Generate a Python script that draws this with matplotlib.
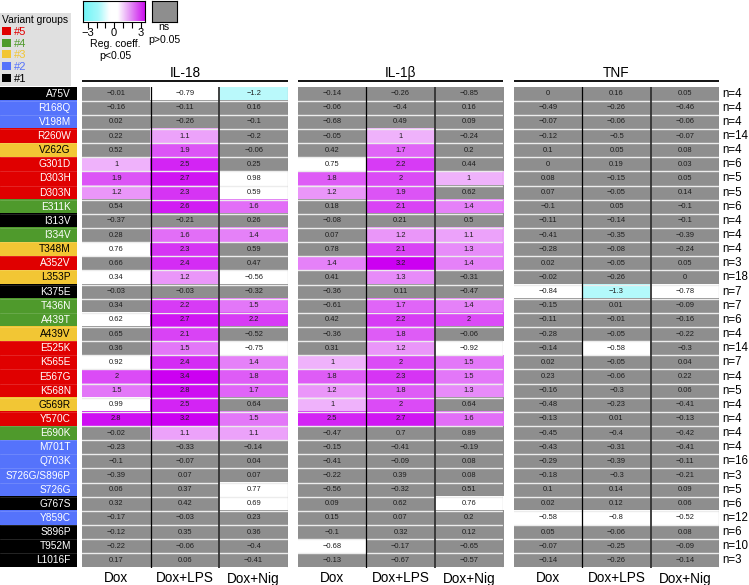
import numpy as np
import matplotlib
matplotlib.use("Agg")
import matplotlib.pyplot as plt
from matplotlib.colors import LinearSegmentedColormap, to_rgb
from matplotlib.patches import Patch

plt.rcParams["font.family"] = ["Liberation Sans", "DejaVu Sans"]

variants = ["A75V", "R168Q", "V198M", "R260W", "V262G", "G301D", "D303H", "D303N",
            "E311K", "I313V", "I334V", "T348M", "A352V", "L353P", "K375E", "T436N",
            "A439T", "A439V", "E525K", "K565E", "E567G", "K568N", "G569R", "Y570C",
            "E690K", "M701T", "Q703K", "S726G/S896P", "S726G", "G767S", "Y859C",
            "S896P", "T952M", "L1016F"]
groups = [1, 2, 2, 5, 3, 5, 5, 5, 4, 1, 4, 3, 5, 3, 1, 4, 4, 3, 5, 5, 5, 5, 3, 5,
          4, 2, 2, 2, 2, 1, 2, 1, 1, 1]
n_obs = [4, 4, 4, 14, 4, 6, 5, 5, 6, 4, 4, 4, 3, 18, 7, 7, 6, 4, 14, 7, 4, 5, 4, 4,
         4, 4, 16, 3, 5, 6, 12, 6, 10, 3]

conditions = ["Dox", "Dox+LPS", "Dox+Nig"]
cytokines = ["IL-18", "IL-1β", "TNF"]

il18_dox = [-0.01, -0.16, 0.02, 0.22, 0.52, 1, 1.9, 1.2, 0.54, -0.37, 0.28, 0.76, 0.66,
            0.34, -0.03, 0.34, 0.62, 0.65, 0.36, 0.92, 2, 1.5, 0.99, 2.8, -0.02, -0.23,
            -0.1, -0.39, 0.06, 0.32, -0.17, -0.12, -0.22, 0.17]
il18_lps = [-0.79, -0.11, -0.26, 1.1, 1.9, 2.5, 2.7, 2.3, 2.6, -0.21, 1.6, 2.3, 2.4, 1.2,
            -0.03, 2.2, 2.7, 2.1, 1.5, 2.4, 3.4, 2.8, 2.5, 3.2, 1.1, -0.33, -0.07, 0.07,
            0.37, 0.42, -0.03, 0.35, -0.06, 0.06]
il18_nig = [-1.2, 0.16, -0.1, -0.2, -0.06, 0.25, 0.98, 0.59, 1.6, 0.26, 1.4, 0.59, 0.47,
            -0.56, -0.32, 1.5, 2.2, -0.52, -0.75, 1.4, 1.8, 1.7, 0.64, 1.5, 1.1, -0.14,
            0.04, 0.07, 0.77, 0.69, 0.23, 0.36, -0.4, -0.41]

il1b_dox = [-0.14, -0.06, -0.68, -0.05, 0.42, 0.75, 1.8, 1.2, 0.18, -0.08, 0.07, 0.78, 1.4,
            0.41, -0.36, -0.61, 0.42, -0.36, 0.31, 1, 1.8, 1.2, 1, 2.5, -0.47, -0.15,
            -0.41, -0.22, -0.56, 0.09, 0.15, -0.1, -0.68, -0.13]
il1b_lps = [-0.26, -0.4, 0.49, 1, 1.7, 2.2, 2, 1.9, 2.1, 0.21, 1.2, 2.1, 3.2, 1.3, 0.11,
            1.7, 2.2, 1.8, 1.2, 2, 2.3, 1.8, 2, 2.7, 0.7, -0.41, -0.09, 0.39, -0.32, 0.62,
            0.07, 0.32, -0.17, -0.67]
il1b_nig = [-0.85, 0.16, 0.09, -0.24, 0.2, 0.44, 1, 0.62, 1.4, 0.5, 1.1, 1.3, 1.4, -0.31,
            -0.47, 1.4, 2, -0.06, -0.92, 1.5, 1.5, 1.3, 0.64, 1.6, 0.89, -0.19, 0.08,
            0.08, 0.51, 0.76, 0.2, 0.12, -0.65, -0.57]

tnf_dox = [0, -0.49, -0.07, -0.12, 0.1, 0, 0.08, 0.07, -0.1, -0.11, -0.41, -0.28, 0.02,
           -0.02, -0.84, -0.15, -0.11, -0.28, -0.14, 0.02, 0.23, -0.16, -0.48, -0.13,
           -0.45, -0.43, -0.29, -0.18, 0.1, 0.02, -0.58, 0.05, -0.07, -0.14]
tnf_lps = [0.16, -0.26, -0.06, -0.5, 0.05, 0.19, -0.15, -0.05, 0.05, -0.14, -0.35, -0.08,
           -0.05, -0.26, -1.3, 0.01, -0.01, -0.05, -0.58, -0.05, -0.06, -0.3, -0.23, 0.01,
           -0.4, -0.31, -0.39, -0.3, 0.14, 0.12, -0.8, -0.06, -0.25, -0.26]
tnf_nig = [0.05, -0.46, -0.06, -0.07, 0.08, 0.03, 0.05, 0.14, -0.1, -0.1, -0.39, -0.24,
           0.05, 0, -0.78, -0.09, -0.16, -0.22, -0.3, 0.04, 0.22, 0.06, -0.41, -0.13,
           -0.42, -0.41, -0.11, -0.21, 0.09, 0.06, -0.52, 0.08, -0.09, -0.14]

# significance (p<0.05) per row, 1 = coloured, 0 = grey
il18_dox_sig = "0000011100010100100111110000000000"
il18_lps_sig = "1001111110111101111111111000000000"
il18_nig_sig = "1000001110100101101111011000110000"
il1b_dox_sig = "0000011100001000000111110000000010"
il1b_lps_sig = "0001111110111101111111110000000000"
il1b_nig_sig = "0000001010111001101111010000010000"
tnf_dox_sig = "0000000000000010000000000000001000"
tnf_lps_sig = "0000000000000010001000000000001000"
tnf_nig_sig = "0000000000000010000000000000001000"

group_colors = {5: "#e00000", 4: "#4f9a2c", 3: "#f2c634", 2: "#5573fb", 1: "#000000"}
GREY = np.array(to_rgb("#8e8e8e"))
WHITE = np.ones(3)
MAGENTA = np.array([0.80, 0.0, 0.95])
CYAN = np.array([0.35, 0.95, 0.97])


def cell_color(v, sig):
    if sig == "0":
        return GREY
    a = abs(v)
    if a < 1:
        return WHITE
    t = min(1.0, 0.3 + 0.7 * ((a - 1) / 2) ** 0.8)
    end = MAGENTA if v > 0 else CYAN
    return WHITE * (1 - t) + end * t


def fmt(v):
    return f"{v:g}".replace("-", "\u2212")


W, H = 749, 585
fig = plt.figure(figsize=(W / 100, H / 100), dpi=100)

top, bottom = 86.5, 567.5
rows = len(variants)
row_h = (bottom - top) / rows


def px_axes(x0, x1, y0, y1):
    return fig.add_axes([x0 / W, 1 - y1 / H, (x1 - x0) / W, (y1 - y0) / H])


# variant labels column
lab_ax = px_axes(0, 77, top, bottom)
lab_img = np.array([[to_rgb(group_colors[g])] for g in groups])
lab_ax.imshow(lab_img, aspect="auto", interpolation="nearest")
for i, (name, g) in enumerate(zip(variants, groups)):
    lab_ax.text(0.42, i, name, ha="right", va="center", fontsize=7.3,
                color="black" if g == 3 else "white")
for i in range(1, rows):
    lab_ax.axhline(i - 0.5, color="white", lw=0.4, alpha=0.25)
lab_ax.axis("off")

panels = [
    (cytokines[0], [il18_dox, il18_lps, il18_nig], [il18_dox_sig, il18_lps_sig, il18_nig_sig], 82, 288),
    (cytokines[1], [il1b_dox, il1b_lps, il1b_nig], [il1b_dox_sig, il1b_lps_sig, il1b_nig_sig], 298, 503),
    (cytokines[2], [tnf_dox, tnf_lps, tnf_nig], [tnf_dox_sig, tnf_lps_sig, tnf_nig_sig], 514, 719),
]

for k, (title, cols, sigs, x0, x1) in enumerate(panels):
    ax = px_axes(x0, x1, top, bottom)
    img = np.zeros((rows, 3, 3))
    for j in range(3):
        for i in range(rows):
            img[i, j] = cell_color(cols[j][i], sigs[j][i])
    ax.imshow(img, aspect="auto", interpolation="nearest")
    for j in range(3):
        for i in range(rows):
            ax.text(j, i, fmt(cols[j][i]), ha="center", va="center",
                    fontsize=5.4, color="#1e1e1e")
    for i in range(1, rows):
        ax.axhline(i - 0.5, color="#ececec", lw=1.0)
    ax.axvline(0.5, color="black", lw=0.9)
    ax.axvline(1.5, color="#333333", lw=1.3)
    ax.axvline(2.5, color="#777777", lw=0.8)
    ax.set_xlim(-0.5, 2.5)
    ax.set_ylim(rows - 0.5, -0.5)
    ax.axis("off")
    # header rule and title
    ax.plot([-0.5, 2.5], [-0.5 - 5.5 / row_h] * 2, color="black", lw=1.3,
            clip_on=False, solid_capstyle="butt")
    ax.text(1, -0.5 - 13.8 / row_h, title, ha="center", va="center", fontsize=9.8)
    for j, c in enumerate(conditions):
        ax.text(j, rows - 0.5 + 11 / row_h, c, ha="center", va="center", fontsize=9.8)
    if k == 2:
        col_w = (x1 - x0) / 3
        for i, n in enumerate(n_obs):
            ax.text(2.5 + 3 / col_w, i, f"n={n}", ha="left", va="center", fontsize=8.3)

# variant group legend
handles = [Patch(facecolor=group_colors[g], edgecolor="none") for g in [5, 4, 3, 2, 1]]
leg = fig.legend(handles, ["#5", "#4", "#3", "#2", "#1"], title="Variant groups",
                 loc="upper left", bbox_to_anchor=(0, 1 - 13 / H), fontsize=8,
                 title_fontsize=7.4, frameon=True, facecolor="#e0e0e0",
                 edgecolor="none", fancybox=False, framealpha=1,
                 handlelength=0.75, handleheight=0.75, handletextpad=0.35,
                 labelspacing=0.15, borderpad=0.2, borderaxespad=0,
                 alignment="left")
for txt, g in zip(leg.get_texts(), [5, 4, 3, 2, 1]):
    txt.set_color(group_colors[g])

# colour bar
cmap = LinearSegmentedColormap.from_list(
    "regcoef", [(0, "#6ff5f7"), (0.25, "#a5f8fa"), (0.43, "#ffffff"),
                (0.56, "#ffffff"), (0.75, "#e59af5"), (1, "#cc10ee")])
cb_ax = px_axes(83.3, 145, 0.5, 21.5)
grad = np.linspace(-3.5, 3.5, 256)[None, :]
cb_ax.imshow(grad, cmap=cmap, aspect="auto", extent=(-3.5, 3.5, 0, 1))
cb_ax.set_yticks([])
cb_ax.set_xticks([-3, -2, -1, 0, 1, 2, 3])
cb_ax.set_xticklabels(["\u22123", "", "", "0", "", "", "3"], fontsize=8)
cb_ax.tick_params(axis="x", length=4.5, width=0.8, pad=0.5)
for s in cb_ax.spines.values():
    s.set_linewidth(0.8)
fig.text(115 / W, 1 - 44 / H, "Reg. coeff.", ha="center", va="center", fontsize=7.6)
fig.text(115 / W, 1 - 56 / H, "p<0.05", ha="center", va="center", fontsize=7.6)

ns_ax = px_axes(152, 177, 0.5, 21.5)
ns_ax.set_facecolor("#8e8e8e")
ns_ax.set_xticks([])
ns_ax.set_yticks([])
for s in ns_ax.spines.values():
    s.set_linewidth(0.8)
fig.text(164 / W, 1 - 27 / H, "ns", ha="center", va="center", fontsize=7.6)
fig.text(164 / W, 1 - 40 / H, "p>0.05", ha="center", va="center", fontsize=7.6)

fig.savefig("out.png", dpi=100)
